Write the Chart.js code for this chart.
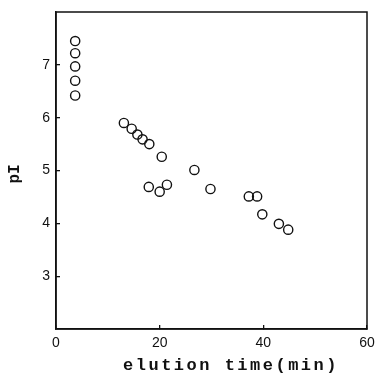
<!DOCTYPE html>
<html>
<head>
<meta charset="utf-8">
<script src="https://cdn.jsdelivr.net/npm/chart.js@4/dist/chart.umd.min.js"></script>
<style>
html,body{margin:0;padding:0;background:#fff;}
canvas{display:block;}
</style>
</head>
<body>
<canvas id="c" width="376" height="376"></canvas>
<script>
// elution time (min)
const elutionTime = [3.7, 3.7, 3.7, 3.7, 3.7,
  13.1, 14.6, 15.7, 16.7, 18.0, 20.4,
  17.9, 20.0, 21.4, 26.7, 29.8,
  37.2, 38.8, 39.8, 43.0, 44.8];
// pI
const pI = [7.45, 7.22, 6.97, 6.70, 6.42,
  5.90, 5.79, 5.68, 5.59, 5.50, 5.26,
  4.69, 4.60, 4.73, 5.01, 4.65,
  4.51, 4.51, 4.17, 3.99, 3.88];
const xTicks = [0, 20, 40, 60];
const yTicks = [3, 4, 5, 6, 7];
const xTitle = 'elution time(min)';
const yTitle = 'pI';

const points = elutionTime.map((x, i) => ({x: x, y: pI[i]}));

const framePlugin = {
  id: 'frame',
  afterDraw(chart) {
    const ctx = chart.ctx;
    const a = chart.chartArea;
    ctx.save();
    ctx.strokeStyle = '#111';
    ctx.lineWidth = 1.5;
    ctx.strokeRect(a.left, a.top, a.right - a.left, a.bottom - a.top);
    ctx.fillStyle = '#111';
    ctx.font = 'bold 17px "Liberation Mono"';
    ctx.letterSpacing = '2.5px';
    ctx.textAlign = 'center';
    ctx.textBaseline = 'middle';
    ctx.fillText(xTitle, 231, 366);
    ctx.translate(15, 174);
    ctx.rotate(-Math.PI / 2);
    ctx.letterSpacing = '0px';
    ctx.font = 'bold 16px "Liberation Mono"';
    ctx.fillText(yTitle, 0, 0);
    ctx.restore();
  }
};

function zeroPad(scale) {
  scale.paddingLeft = 0; scale.paddingRight = 0;
  scale.paddingTop = 0; scale.paddingBottom = 0;
}

new Chart(document.getElementById('c'), {
  type: 'scatter',
  data: {
    datasets: [{
      data: points,
      showLine: false,
      pointStyle: 'circle',
      pointRadius: 4.6,
      pointHoverRadius: 4.6,
      pointBorderWidth: 1.4,
      borderColor: '#111',
      backgroundColor: 'rgba(0,0,0,0)'
    }]
  },
  options: {
    responsive: false,
    animation: false,
    devicePixelRatio: 1,
    layout: {padding: {left: 0, top: 12, right: 9, bottom: 0}},
    plugins: {legend: {display: false}, tooltip: {enabled: false}},
    scales: {
      x: {
        type: 'linear',
        min: 0, max: 60,
        afterBuildTicks(scale) { scale.ticks = xTicks.map(v => ({value: v})); },
        afterFit(scale) { scale.height = 47; zeroPad(scale); },
        grid: {display: true, drawOnChartArea: false, drawTicks: true, tickLength: -4, color: '#111', lineWidth: 1.3},
        border: {display: true, color: '#111', width: 1.5},
        ticks: {
          padding: 10,
          color: '#111',
          font: {family: '"Liberation Sans"', size: 14},
          maxRotation: 0
        }
      },
      y: {
        type: 'linear',
        min: 2, max: 8,
        afterBuildTicks(scale) { scale.ticks = yTicks.map(v => ({value: v})); },
        afterFit(scale) { scale.width = 56; zeroPad(scale); },
        grid: {display: true, drawOnChartArea: false, drawTicks: true, tickLength: -4, color: '#111', lineWidth: 1.3},
        border: {display: true, color: '#111', width: 1.5},
        ticks: {
          padding: 10,
          color: '#111',
          font: {family: '"Liberation Sans"', size: 14}
        }
      }
    }
  },
  plugins: [framePlugin]
});
</script>
</body>
</html>
